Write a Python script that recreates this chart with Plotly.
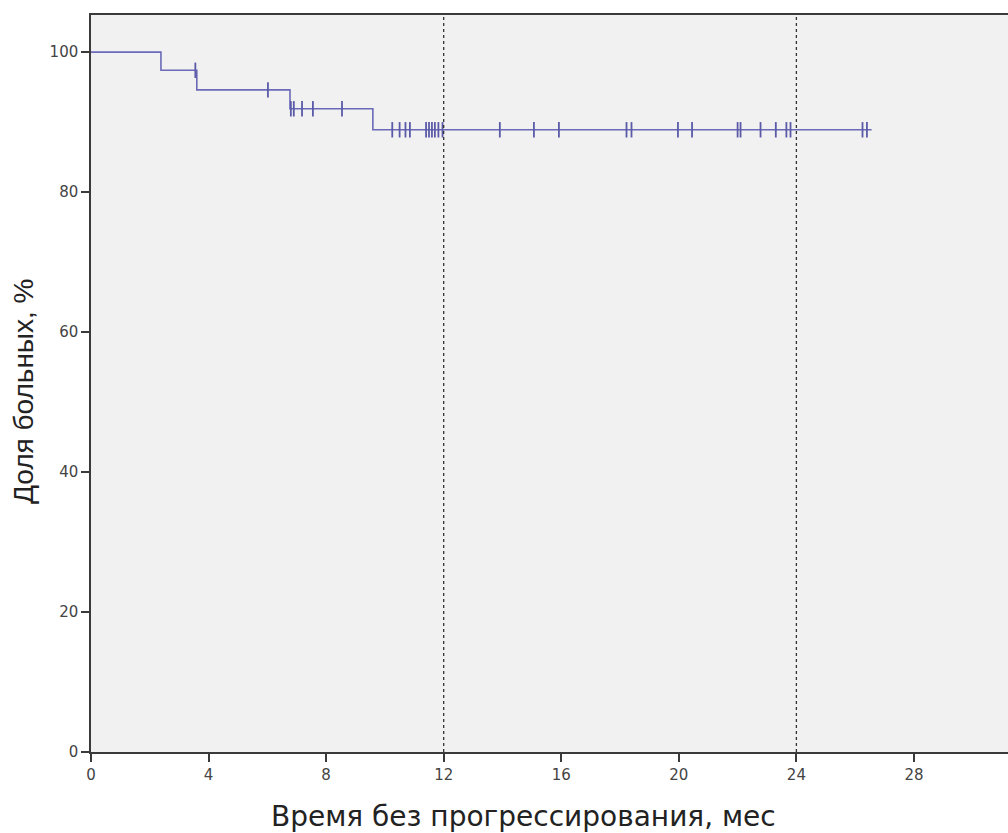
import plotly.graph_objects as go

# Kaplan-Meier step curve (months, %)
step_times = [0, 2.38, 3.6, 6.77, 9.59, 26.56]
step_surv = [100, 97.4, 94.6, 91.9, 88.9, 88.9]

# censored observations (months) and the survival level at which they sit
censor_times = [3.55, 6.02,
                6.8, 6.9, 7.18, 7.55, 8.54,
                10.25, 10.5, 10.7, 10.85,
                11.4, 11.5, 11.6, 11.7, 11.82, 11.96,
                13.91, 15.07, 15.92, 18.22, 18.39,
                19.97, 20.45, 22.0, 22.1, 22.78, 23.3, 23.66, 23.8,
                26.25, 26.4]
censor_surv = [97.4, 94.6,
               91.9, 91.9, 91.9, 91.9, 91.9,
               88.9, 88.9, 88.9, 88.9,
               88.9, 88.9, 88.9, 88.9, 88.9, 88.9,
               88.9, 88.9, 88.9, 88.9, 88.9,
               88.9, 88.9, 88.9, 88.9, 88.9, 88.9, 88.9, 88.9,
               88.9, 88.9]

ref_lines = [12, 24]
x_ticks = [0, 4, 8, 12, 16, 20, 24, 28]
y_ticks = [0, 20, 40, 60, 80, 100]
x_title = "Время без прогрессирования, мес"
y_title = "Доля больных, %"

fig = go.Figure()
fig.add_trace(go.Scatter(
    x=step_times, y=step_surv, mode="lines", line_shape="hv",
    line=dict(color="#6a6ab8", width=1.6), showlegend=False))
fig.add_trace(go.Scatter(
    x=censor_times, y=censor_surv, mode="markers",
    marker=dict(symbol="line-ns", size=11,
                line=dict(color="#5a5aa8", width=1.8)),
    showlegend=False))

for xv in ref_lines:
    fig.add_vline(x=xv, line=dict(color="#333333", width=1.3, dash="dot"))

fig.add_annotation(text=x_title, xref="paper", yref="paper", x=0.472, y=-0.088,
                   xanchor="center", yanchor="middle", showarrow=False,
                   font=dict(family="DejaVu Sans, sans-serif", size=28, color="#222222"))
fig.add_annotation(text=y_title, xref="paper", yref="paper", x=-0.073, y=0.4885,
                   xanchor="center", yanchor="middle", showarrow=False, textangle=-90,
                   font=dict(family="Liberation Sans, Arial, sans-serif", size=28, color="#222222"))

fig.update_layout(
    width=1008, height=833,
    margin=dict(l=91, r=0, t=15, b=81),
    paper_bgcolor="white", plot_bgcolor="#f1f1f1",
    font=dict(family="DejaVu Sans, sans-serif", color="#333333"),
    xaxis=dict(range=[0, 31.2], tickvals=x_ticks, showgrid=False, zeroline=False,
               showline=True, linecolor="#3a3a3a", linewidth=1.5, mirror=True,
               ticks="outside", ticklen=8, tickcolor="#3a3a3a", tickwidth=1.5,
               tickfont=dict(size=15, color="#444444"), automargin=False),
    yaxis=dict(range=[0, 105.3], tickvals=y_ticks, showgrid=False, zeroline=False,
               showline=True, linecolor="#3a3a3a", linewidth=1.5, mirror=False,
               ticks="outside", ticklen=8, tickcolor="#3a3a3a", tickwidth=1.5,
               tickfont=dict(size=15, color="#444444"), automargin=False),
)

fig.write_html("out.html", config={"displayModeBar": False},
               post_script="document.body.style.margin='0px';document.body.style.overflow='hidden';")
